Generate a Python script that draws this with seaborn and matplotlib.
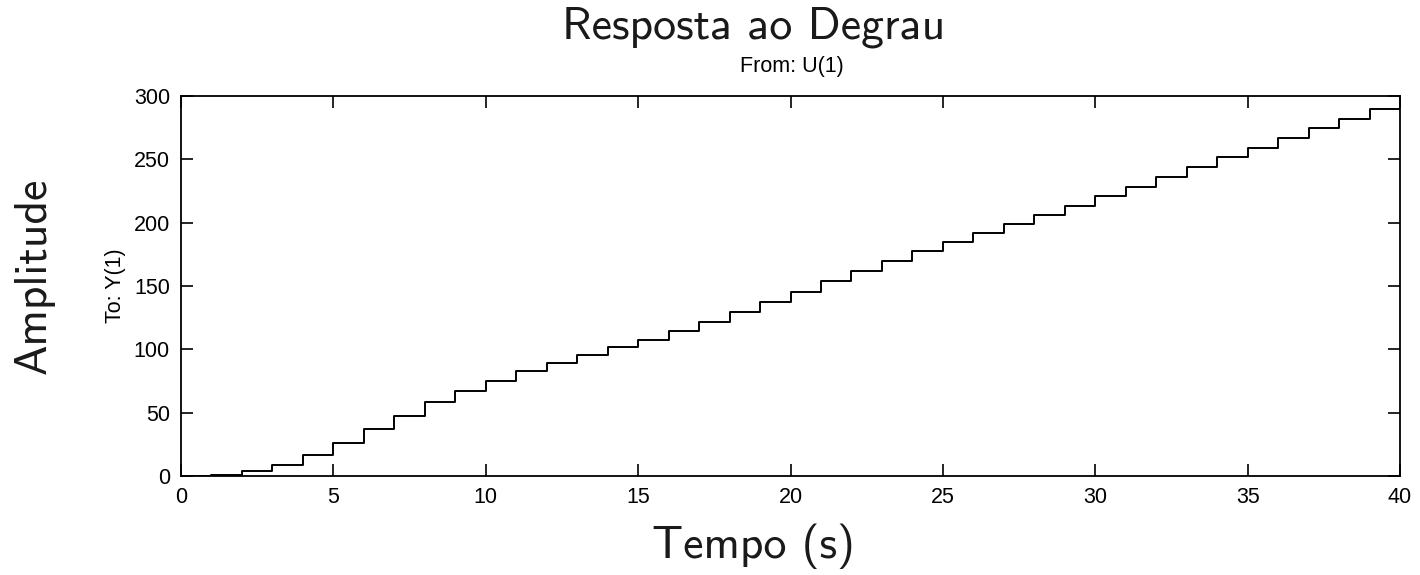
import matplotlib
matplotlib.use("Agg")
import matplotlib.pyplot as plt
import seaborn as sns
import pandas as pd

# Data
time_s = list(range(0, 41))
amplitude = [0.0, 0.5, 3.7, 8.9, 16.8, 26.3, 37.1, 47.6, 58.2, 67.1,
             75.3, 82.7, 89.3, 95.3, 101.6, 107.7, 114.5, 121.9, 129.5, 137.5,
             145.6, 153.8, 161.7, 169.6, 177.5, 184.6, 191.9, 199.1, 206.2, 213.5,
             220.8, 228.3, 235.9, 243.6, 251.5, 259.1, 266.7, 274.4, 282.0, 289.7,
             289.7]
x_ticks = [0, 5, 10, 15, 20, 25, 30, 35, 40]
y_ticks = [0, 50, 100, 150, 200, 250, 300]

sns.set_style("ticks")
plt.rcParams['font.family'] = ['Liberation Sans', 'DejaVu Sans']
plt.rcParams['text.color'] = 'black'

df = pd.DataFrame({"t": time_s, "y": amplitude})

fig = plt.figure(figsize=(14.2, 5.75), dpi=100)
ax = fig.add_axes([181 / 1420, 99 / 575, (1400 - 181) / 1420, (476 - 96) / 575])

sns.lineplot(data=df, x="t", y="y", ax=ax, drawstyle="steps-post",
             color="black", linewidth=1.4, errorbar=None)

ax.set_xlim(0, 40)
ax.set_ylim(0, 300)
ax.set_xticks(x_ticks)
ax.set_yticks(y_ticks)
ax.tick_params(direction="in", length=8.5, width=1.2, top=True, right=True,
               labelsize=15.5, colors="black", pad=8)
for sp in ax.spines.values():
    sp.set_visible(True)
    sp.set_linewidth(1.3)
    sp.set_color("black")
ax.set_xlabel("")
ax.set_ylabel("")

big = dict(family=["cmss10", "DejaVu Sans"], fontsize=33, color="#1a1a1a")
fig.text(754 / 1420, 1 - 27 / 575, "Resposta ao Degrau", ha="center", va="center", **big)
fig.text(753 / 1420, 1 - 546 / 575, "Tempo (s)", ha="center", va="center", **big)
fig.text(34 / 1420, 1 - 276 / 575, "Amplitude", ha="center", va="center", rotation=90, **big)
fig.text(792 / 1420, 1 - 67 / 575, "From: U(1)", ha="center", va="center", fontsize=15.5, color="black")
fig.text(115 / 1420, 1 - 286 / 575, "To: Y(1)", ha="center", va="center", rotation=90, fontsize=15.5, color="black")

fig.savefig("out.png", dpi=100, facecolor="white")
